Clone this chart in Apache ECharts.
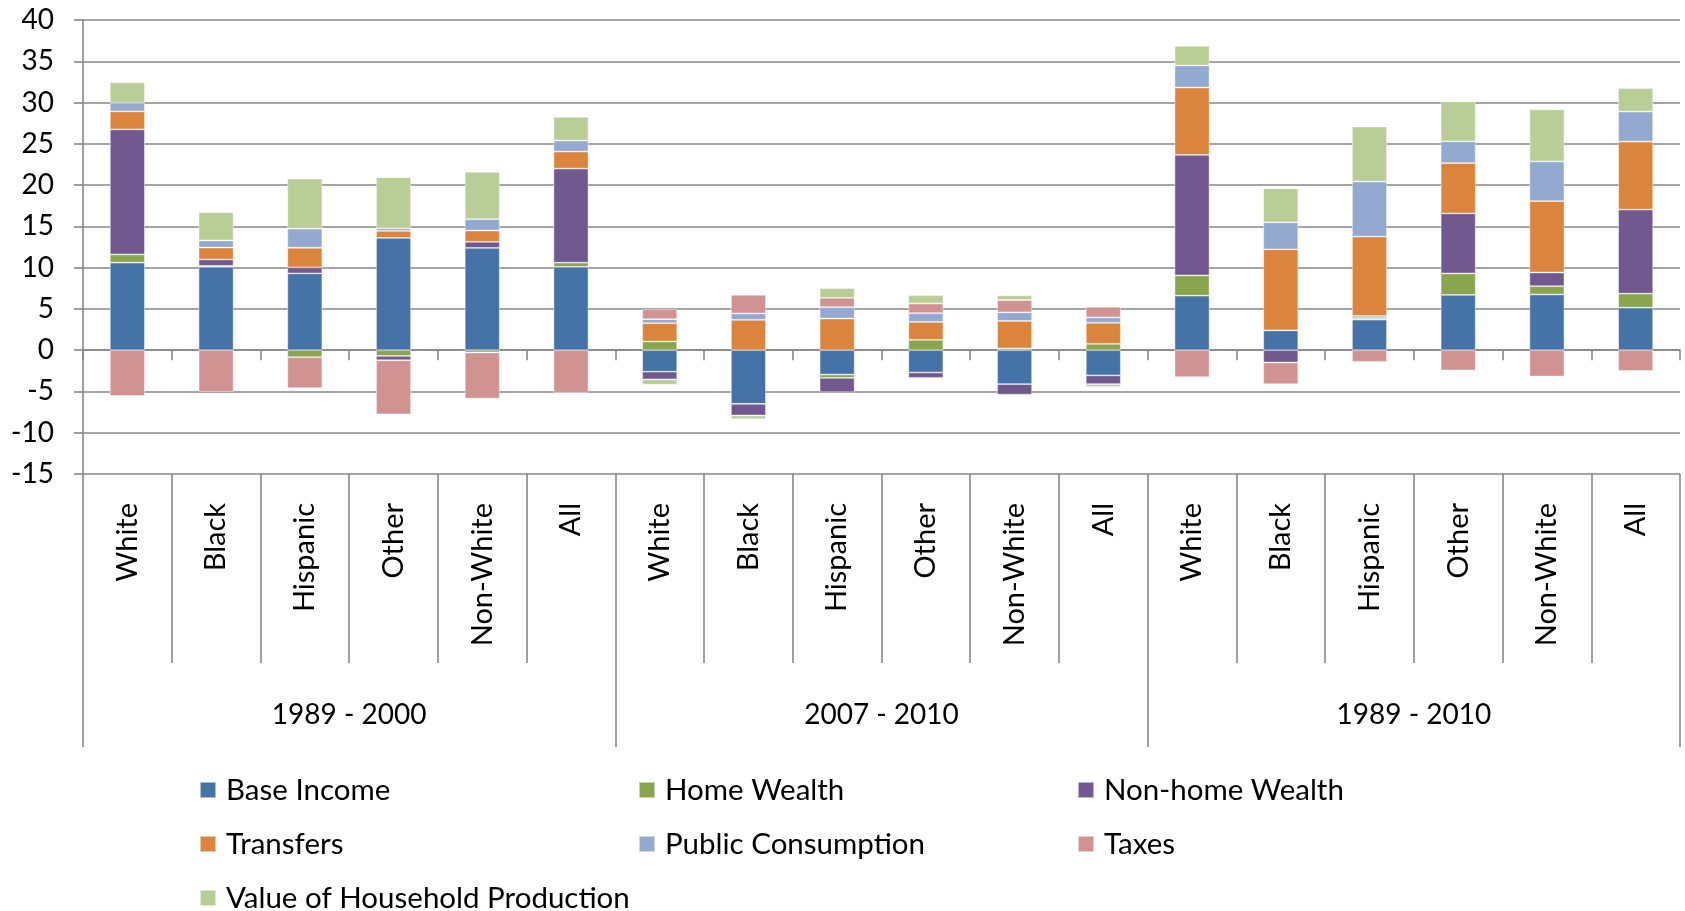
<!DOCTYPE html>
<html>
<head>
<meta charset="utf-8">
<title>Decomposition by group and period</title>
<script src="https://cdn.jsdelivr.net/npm/echarts@6/dist/echarts.min.js"></script>
<style>
  html, body { margin: 0; padding: 0; background: #fff; }
  #chart { width: 1685px; height: 911px; }
</style>
</head>
<body>
<div id="chart"></div>
<script>
// Categories: race/ethnicity groups repeated across three periods
const categories = [
  'White', 'Black', 'Hispanic', 'Other', 'Non-White', 'All',
  'White', 'Black', 'Hispanic', 'Other', 'Non-White', 'All',
  'White', 'Black', 'Hispanic', 'Other', 'Non-White', 'All'
];
const periods = ['1989 - 2000', '2007 - 2010', '1989 - 2010'];

// Component values, one entry per category
const baseIncome = [10.6, 10.1, 9.3, 13.6, 12.4, 10.1, -2.6, -6.5, -2.95, -2.7, -4.1, -3.05, 6.6, 2.4, 3.7, 6.7, 6.75, 5.15];
const homeWealth = [1.0, 0.12, -0.85, -0.7, -0.28, 0.5, 1.05, 0, -0.4, 1.25, 0.22, 0.77, 2.46, 0, 0.2, 2.6, 1.0, 1.7];
const nonHomeWealth = [15.15, 0.77, 0.73, -0.52, 0.73, 11.4, -0.93, -1.41, -1.74, -0.65, -1.29, -1.05, 14.6, -1.49, 0.24, 7.27, 1.66, 10.18];
const transfers = [2.18, 1.45, 2.38, 0.85, 1.37, 2.06, 2.22, 3.68, 3.84, 2.18, 3.32, 2.55, 8.16, 9.82, 9.62, 6.1, 8.65, 8.24];
const publicConsumption = [1.05, 0.85, 2.31, 0.32, 1.37, 1.33, 0.48, 0.77, 1.37, 1.05, 1.05, 0.65, 2.67, 3.27, 6.67, 2.63, 4.81, 3.64];
const taxes = [-5.54, -5.05, -3.76, -6.55, -5.58, -5.17, 1.21, 2.26, 1.13, 1.17, 1.49, 1.29, -3.27, -2.63, -1.41, -2.46, -3.19, -2.51];
const householdProduction = [2.46, 3.44, 6.06, 6.18, 5.74, 2.87, -0.65, -0.44, 1.17, 1.01, 0.57, -0.36, 2.38, 4.12, 6.67, 4.85, 6.3, 2.83];

const yTicks = { min: -15, max: 40, step: 5 };

const FONT = 'Lato';
const AXIS_GREY = '#878787';

const seriesDefs = [
  { name: 'Base Income', data: baseIncome, color: '#4572A7' },
  { name: 'Home Wealth', data: homeWealth, color: '#89A54E' },
  { name: 'Non-home Wealth', data: nonHomeWealth, color: '#71588F' },
  { name: 'Transfers', data: transfers, color: '#DB843D' },
  { name: 'Public Consumption', data: publicConsumption, color: '#93A9CF' },
  { name: 'Taxes', data: taxes, color: '#D19392' },
  { name: 'Value of Household Production', data: householdProduction, color: '#B9CD96' }
];

// Legend rows; fixed text width keeps the entries in aligned columns
const legendRows = [
  ['Base Income', 'Home Wealth', 'Non-home Wealth'],
  ['Transfers', 'Public Consumption', 'Taxes'],
  ['Value of Household Production']
];
const legendTops = [775, 829, 883];

const chart = echarts.init(document.getElementById('chart'), null, { renderer: 'canvas' });

const gridTop = 20, gridBottomY = 474;
const innerTickLen = 189;   // category dividers below the plot
const groupTickLen = 84;    // period dividers below the category dividers

const option = {
  animation: false,
  color: seriesDefs.map(s => s.color),
  textStyle: { fontFamily: FONT },
  grid: { left: 83, right: 5, top: gridTop, bottom: 911 - gridBottomY, containLabel: false },
  legend: legendRows.map((row, i) => ({
    orient: 'horizontal',
    left: 199,
    top: legendTops[i],
    padding: 0,
    itemGap: 0,
    itemWidth: 16,
    itemHeight: 16,
    icon: 'rect',
    selectedMode: false,
    data: row,
    textStyle: {
      fontFamily: FONT, fontSize: 29.5, color: '#000',
      lineHeight: 28, width: 412, padding: [0, 0, 0, 5]
    }
  })),
  xAxis: [
    {
      // axis through zero with short ticks
      type: 'category',
      data: categories,
      position: 'bottom',
      axisLine: { onZero: true, lineStyle: { color: AXIS_GREY, width: 1.6 } },
      axisTick: { show: true, length: 10, interval: 0, lineStyle: { color: AXIS_GREY, width: 1.6 } },
      axisLabel: { show: false },
      splitLine: { show: false }
    },
    {
      // rotated category labels with long dividers
      type: 'category',
      data: categories,
      position: 'bottom',
      axisLine: { show: false, onZero: false },
      axisTick: { show: true, length: innerTickLen, interval: 0, lineStyle: { color: AXIS_GREY, width: 1.6 } },
      axisLabel: { show: true, interval: 0, rotate: 90, margin: 29, fontSize: 29, color: '#000', fontFamily: FONT },
      splitLine: { show: false }
    },
    {
      // period labels
      type: 'category',
      data: periods,
      position: 'bottom',
      offset: innerTickLen,
      axisLine: { show: false, onZero: false },
      axisTick: { show: true, length: groupTickLen, interval: 0, lineStyle: { color: AXIS_GREY, width: 1.6 } },
      axisLabel: { show: true, interval: 0, margin: 38, fontSize: 28, color: '#000', fontFamily: FONT },
      splitLine: { show: false }
    }
  ],
  yAxis: {
    type: 'value',
    min: yTicks.min,
    max: yTicks.max,
    interval: yTicks.step,
    axisLine: { show: true, lineStyle: { color: AXIS_GREY, width: 1.6 } },
    axisTick: { show: true, length: 9, lineStyle: { color: AXIS_GREY, width: 1.6 } },
    axisLabel: { fontSize: 28, color: '#000', margin: 29, fontFamily: FONT },
    splitLine: { show: true, lineStyle: { color: AXIS_GREY, width: 1.6 } }
  },
  series: seriesDefs.map(s => ({
    name: s.name,
    type: 'bar',
    stack: 'total',
    xAxisIndex: 0,
    barWidth: 35,
    data: s.data,
    itemStyle: { color: s.color, borderColor: 'rgba(255,255,255,0.55)', borderWidth: 0.8 }
  }))
};

chart.setOption(option);
</script>
</body>
</html>
